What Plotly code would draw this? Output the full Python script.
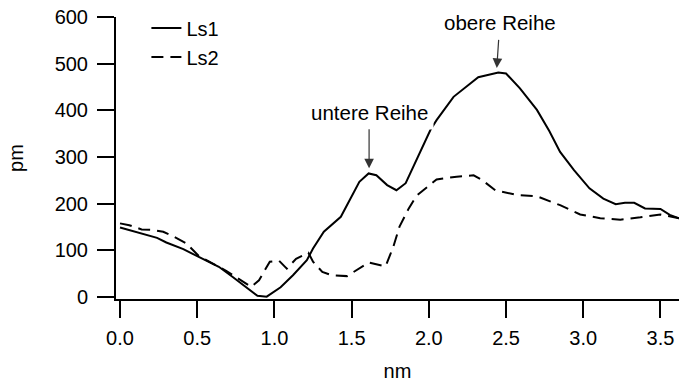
import plotly.graph_objects as go

# Height profiles along the scan line (distance in nm, height in pm)
ls1_nm = [0.00, 0.14, 0.24, 0.30, 0.41, 0.51, 0.64, 0.73, 0.84, 0.89, 0.95,
          1.04, 1.12, 1.21, 1.25, 1.32, 1.43, 1.49, 1.55, 1.61, 1.66, 1.73,
          1.79, 1.85, 1.92, 1.95, 2.01, 2.05, 2.16, 2.32, 2.45, 2.50, 2.59,
          2.70, 2.78, 2.85, 2.94, 3.04, 3.13, 3.21, 3.27, 3.33, 3.40, 3.50,
          3.56, 3.62]
ls1_pm = [149, 136, 127, 117, 103, 86, 65, 43, 15, 3, 1,
          21, 47, 79, 104, 140, 172, 208, 247, 265, 261, 240,
          229, 244, 293, 314, 358, 379, 429, 471, 481, 479, 447,
          401, 356, 311, 272, 233, 211, 199, 202, 202, 190, 189,
          176, 169]

ls2_nm = [0.00, 0.06, 0.14, 0.20, 0.28, 0.34, 0.43, 0.51, 0.64, 0.69, 0.85,
          0.90, 0.97, 1.03, 1.08, 1.14, 1.22, 1.25, 1.31, 1.37, 1.47, 1.55,
          1.61, 1.72, 1.77, 1.81, 1.87, 1.92, 1.98, 2.05, 2.18, 2.29, 2.34,
          2.43, 2.57, 2.70, 2.85, 2.98, 3.11, 3.24, 3.37, 3.50, 3.62]
ls2_pm = [158, 154, 145, 144, 140, 131, 115, 88, 65, 56, 22,
          36, 76, 78, 61, 82, 95, 76, 54, 47, 45, 61,
          74, 66, 108, 151, 190, 217, 233, 252, 258, 261, 252,
          229, 219, 216, 197, 177, 169, 166, 171, 177, 169]

x_ticks = [0.0, 0.5, 1.0, 1.5, 2.0, 2.5, 3.0, 3.5]
y_ticks = [0, 100, 200, 300, 400, 500, 600]

# Labelled features: (text, nm, pm, text offset x px, text offset y px)
features = [
    ("untere Reihe", 1.613, 276, 0, -56),
    ("obere Reihe", 2.44, 491, 3, -45),
]

FONT = "Liberation Sans, Arial, Helvetica, sans-serif"

fig = go.Figure()
fig.add_trace(go.Scatter(x=ls1_nm, y=ls1_pm, name="Ls1", mode="lines",
                         line=dict(color="black", width=2)))
fig.add_trace(go.Scatter(x=ls2_nm, y=ls2_pm, name="Ls2", mode="lines",
                         line=dict(color="black", width=2, dash="12px,7px")))

for text, fx, fy, ax, ay in features:
    fig.add_annotation(x=fx, y=fy, text=text, showarrow=True,
                       ax=ax, ay=ay, arrowhead=2, arrowsize=1.6,
                       arrowwidth=1.2, arrowcolor="#333333", standoff=0,
                       bgcolor="white", borderpad=5,
                       font=dict(family=FONT, size=20.5, color="black"))

axis_common = dict(showline=True, linecolor="black", linewidth=2,
                   ticks="outside", ticklen=17, tickwidth=2, tickcolor="black",
                   showgrid=False, zeroline=False, mirror=False,
                   tickfont=dict(family=FONT, size=20, color="black"))

fig.update_xaxes(range=[-0.026, 3.62], tickvals=x_ticks, tickformat=".1f",
                 ticklabelstandoff=3,
                 title=dict(text="nm", font=dict(family=FONT, size=20),
                            standoff=18),
                 **axis_common)
fig.update_yaxes(range=[-4, 600], tickvals=y_ticks,
                 ticklabelstandoff=5,
                 title=dict(text="pm", font=dict(family=FONT, size=20),
                            standoff=26),
                 **axis_common)

fig.update_layout(
    width=679, height=382,
    margin=dict(l=116, r=0, t=17, b=83),
    paper_bgcolor="white", plot_bgcolor="white",
    font=dict(family=FONT, size=20, color="black"),
    legend=dict(x=0.054, y=1.03, xanchor="left", yanchor="top",
                bgcolor="rgba(0,0,0,0)", font=dict(family=FONT, size=20),
                tracegroupgap=0),
)

fig.write_html("out.html")
